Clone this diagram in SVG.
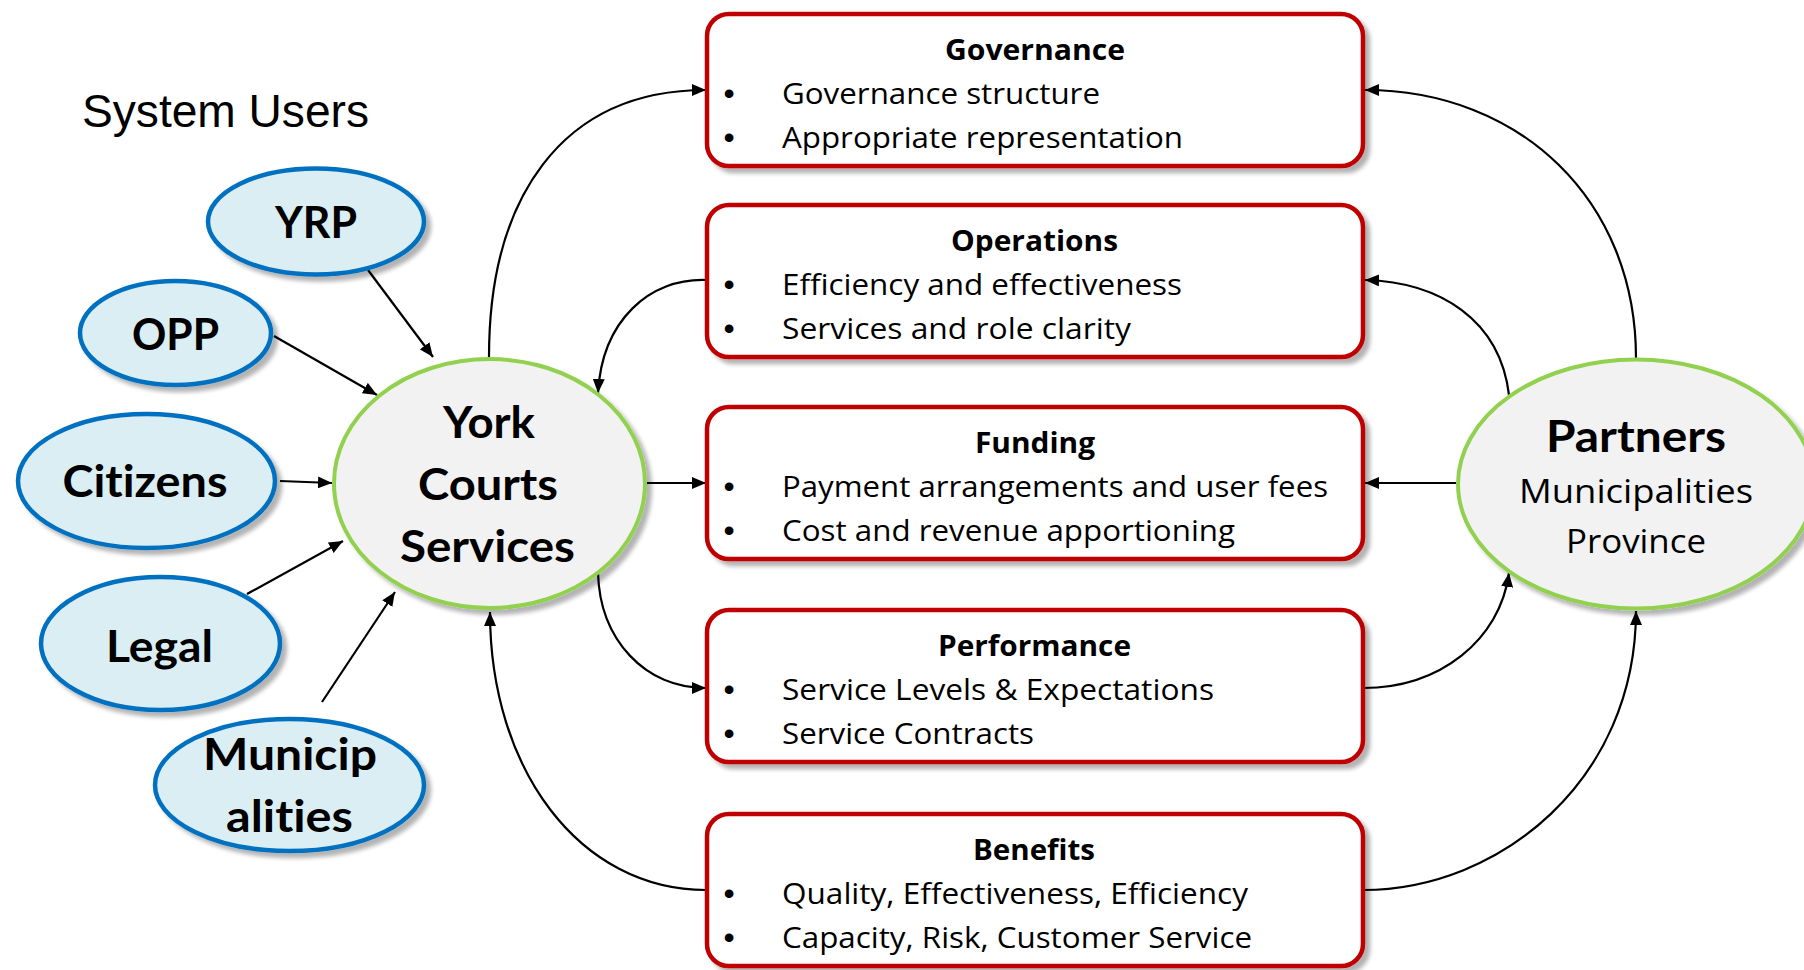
<svg xmlns="http://www.w3.org/2000/svg" width="1804" height="970" viewBox="0 0 1804 970">
<defs>
<style>
.box{fill:#FFFFFF;stroke:#C00000;stroke-width:4.5;filter:url(#sh)}
.user{fill:#DAEEF3;stroke:#0070C0;stroke-width:4.5;filter:url(#sh)}
.hub{fill:#F2F2F2;stroke:#92D050;stroke-width:4;filter:url(#sh)}
.ttl{font-family:"Open Sans","Noto Sans",sans-serif;font-weight:700;font-size:28px;fill:#000}
.body{font-family:"Open Sans","Noto Sans",sans-serif;font-size:29px;fill:#000}
.bul{font-family:"Liberation Sans",sans-serif;font-size:32px;fill:#000;text-anchor:middle}
.big{font-family:Lato,"Open Sans",sans-serif;font-weight:700;font-size:44px;fill:#000;font-variant-ligatures:none}
.sub{font-family:"Open Sans","Noto Sans",sans-serif;font-size:32px;fill:#000}
.head{font-family:"Liberation Sans",Arial,sans-serif;font-size:46px;fill:#000}
.con{fill:none;stroke:#000;stroke-width:2.2}
</style>
<filter id="sh" x="-10%" y="-10%" width="130%" height="130%">
<feGaussianBlur in="SourceAlpha" stdDeviation="2"/>
<feOffset dx="5" dy="5" result="o"/>
<feComponentTransfer><feFuncA type="linear" slope="0.3"/></feComponentTransfer>
<feMerge><feMergeNode/><feMergeNode in="SourceGraphic"/></feMerge>
</filter>
<marker id="ah" viewBox="0 0 14 12" refX="14" refY="6" markerWidth="14" markerHeight="12" markerUnits="userSpaceOnUse" orient="auto">
<path d="M0,0 L14,6 L0,12 z" fill="#000"/>
</marker>
</defs>
<rect width="1804" height="970" fill="#FFFFFF"/>

<text class="head" x="82" y="127" textLength="287" lengthAdjust="spacingAndGlyphs">System Users</text>

<g id="connectors">
<path class="con" d="M368,270 L433,357" marker-end="url(#ah)"/>
<path class="con" d="M274,336 L377,395" marker-end="url(#ah)"/>
<path class="con" d="M280,481 L332,483" marker-end="url(#ah)"/>
<path class="con" d="M247,594 L343,541" marker-end="url(#ah)"/>
<path class="con" d="M322,702 L395,592" marker-end="url(#ah)"/>
<path class="con" d="M489,357 C489,200 560,90 706,90" marker-end="url(#ah)"/>
<path class="con" d="M706,280 C650,278 602,320 598,393" marker-end="url(#ah)"/>
<path class="con" d="M647,483 L706,483" marker-end="url(#ah)"/>
<path class="con" d="M598,573 C600,640 645,688 706,688" marker-end="url(#ah)"/>
<path class="con" d="M706,890 C580,890 490,770 490,612" marker-end="url(#ah)"/>
<path class="con" d="M1636,358 C1636,200 1520,90 1365,90" marker-end="url(#ah)"/>
<path class="con" d="M1509,395 C1500,320 1440,282 1365,280" marker-end="url(#ah)"/>
<path class="con" d="M1456,483 L1365,483" marker-end="url(#ah)"/>
<path class="con" d="M1363,688 C1440,688 1500,640 1509,573" marker-end="url(#ah)"/>
<path class="con" d="M1363,890 C1500,890 1636,780 1636,611" marker-end="url(#ah)"/>
</g>

<g id="yrp">
<ellipse class="user" cx="316" cy="221.5" rx="108" ry="53"/>
<text class="big" x="275" y="238" textLength="82" lengthAdjust="spacingAndGlyphs">YRP</text>
</g>
<g id="opp">
<ellipse class="user" cx="175.5" cy="333" rx="95.5" ry="52"/>
<text class="big" x="132" y="350" textLength="87" lengthAdjust="spacingAndGlyphs">OPP</text>
</g>
<g id="citizens">
<ellipse class="user" cx="146.5" cy="481" rx="128.5" ry="67"/>
<text class="big" x="62.5" y="497" textLength="165" lengthAdjust="spacingAndGlyphs">Citizens</text>
</g>
<g id="legal">
<ellipse class="user" cx="160.5" cy="643.5" rx="119.5" ry="66.5"/>
<text class="big" x="106" y="662" textLength="107" lengthAdjust="spacingAndGlyphs">Legal</text>
</g>
<g id="municipalities">
<ellipse class="user" cx="289.5" cy="785" rx="134.5" ry="66"/>
<text class="big" x="203" y="770" textLength="174" lengthAdjust="spacingAndGlyphs">Municip</text>
<text class="big" x="226" y="832" textLength="127" lengthAdjust="spacingAndGlyphs">alities</text>
</g>

<g id="york">
<ellipse class="hub" cx="489.5" cy="483.5" rx="155.5" ry="124.5"/>
<text class="big" x="443" y="438" textLength="92" lengthAdjust="spacingAndGlyphs">York</text>
<text class="big" x="418" y="500" textLength="140" lengthAdjust="spacingAndGlyphs">Courts</text>
<text class="big" x="400" y="562" textLength="175" lengthAdjust="spacingAndGlyphs">Services</text>
</g>

<g id="partners">
<ellipse class="hub" cx="1636" cy="484" rx="178" ry="124.5"/>
<text class="big" x="1546" y="452" textLength="180" lengthAdjust="spacingAndGlyphs">Partners</text>
<text class="sub" x="1519" y="503" textLength="234" lengthAdjust="spacingAndGlyphs">Municipalities</text>
<text class="sub" x="1566" y="553" textLength="140" lengthAdjust="spacingAndGlyphs">Province</text>
</g>

<g id="governance">
<rect class="box" x="707" y="14" width="656" height="152" rx="22"/>
<text class="ttl" x="945" y="60" textLength="180" lengthAdjust="spacingAndGlyphs">Governance</text>
<text class="bul" x="729" y="104">•</text>
<text class="body" x="782" y="104" textLength="318" lengthAdjust="spacingAndGlyphs">Governance structure</text>
<text class="bul" x="729" y="148">•</text>
<text class="body" x="782" y="148" textLength="401" lengthAdjust="spacingAndGlyphs">Appropriate representation</text>
</g>

<g id="operations">
<rect class="box" x="707" y="205" width="656" height="152" rx="22"/>
<text class="ttl" x="951" y="251" textLength="167" lengthAdjust="spacingAndGlyphs">Operations</text>
<text class="bul" x="729" y="295">•</text>
<text class="body" x="782" y="295" textLength="400" lengthAdjust="spacingAndGlyphs">Efficiency and effectiveness</text>
<text class="bul" x="729" y="339">•</text>
<text class="body" x="782" y="339" textLength="349" lengthAdjust="spacingAndGlyphs">Services and role clarity</text>
</g>

<g id="funding">
<rect class="box" x="707" y="407" width="656" height="152" rx="22"/>
<text class="ttl" x="975" y="453" textLength="120" lengthAdjust="spacingAndGlyphs">Funding</text>
<text class="bul" x="729" y="497">•</text>
<text class="body" x="782" y="497" textLength="546" lengthAdjust="spacingAndGlyphs">Payment arrangements and user fees</text>
<text class="bul" x="729" y="541">•</text>
<text class="body" x="782" y="541" textLength="453" lengthAdjust="spacingAndGlyphs">Cost and revenue apportioning</text>
</g>

<g id="performance">
<rect class="box" x="707" y="610" width="656" height="152" rx="22"/>
<text class="ttl" x="938" y="656" textLength="193" lengthAdjust="spacingAndGlyphs">Performance</text>
<text class="bul" x="729" y="700">•</text>
<text class="body" x="782" y="700" textLength="432" lengthAdjust="spacingAndGlyphs">Service Levels &amp; Expectations</text>
<text class="bul" x="729" y="744">•</text>
<text class="body" x="782" y="744" textLength="252" lengthAdjust="spacingAndGlyphs">Service Contracts</text>
</g>

<g id="benefits">
<rect class="box" x="707" y="814" width="656" height="152" rx="22"/>
<text class="ttl" x="973" y="860" textLength="122" lengthAdjust="spacingAndGlyphs">Benefits</text>
<text class="bul" x="729" y="904">•</text>
<text class="body" x="782" y="904" textLength="466" lengthAdjust="spacingAndGlyphs">Quality, Effectiveness, Efficiency</text>
<text class="bul" x="729" y="948">•</text>
<text class="body" x="782" y="948" textLength="470" lengthAdjust="spacingAndGlyphs">Capacity, Risk, Customer Service</text>
</g>
</svg>
